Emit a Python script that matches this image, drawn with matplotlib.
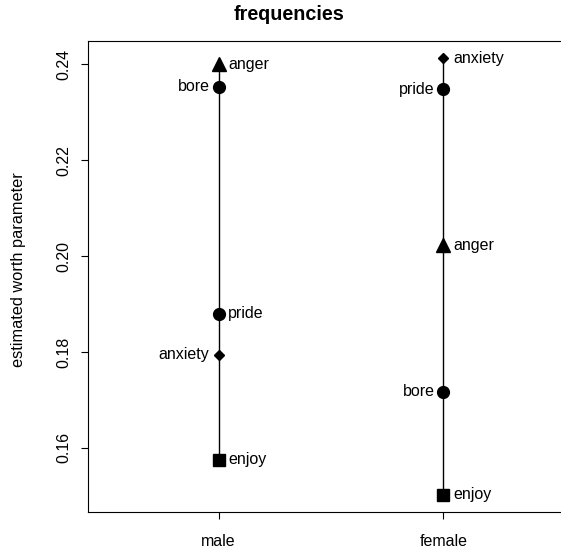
import matplotlib
matplotlib.use("Agg")
import matplotlib.pyplot as plt

groups = ["male", "female"]
items = ["anger", "bore", "pride", "anxiety", "enjoy"]
male = [0.2400, 0.2354, 0.1880, 0.1794, 0.1575]
female = [0.2023, 0.1717, 0.2348, 0.2413, 0.1502]
markers = {"anger": "^", "bore": "o", "pride": "o", "anxiety": "D", "enjoy": "s"}
msizes = {"anger": 10.5, "bore": 8.5, "pride": 8.5, "anxiety": 5, "enjoy": 8.5}
yticks = [0.16, 0.18, 0.20, 0.22, 0.24]

plt.rcParams['font.family'] = ['Liberation Sans', 'DejaVu Sans']
fig = plt.figure(figsize=(5.61, 5.55), dpi=100)
W, H = 561, 555
L, R, T, B = 88, 574, 41, 512
ax = fig.add_axes([L/W, (H-B)/H, (R-L)/W, (B-T)/H])

data = [male, female]
for gi, vals in enumerate(data):
    x = gi + 1
    ax.plot([x, x], [min(vals), max(vals)], color="black", lw=1, zorder=1)
    order = sorted(range(len(items)), key=lambda i: -vals[i])
    for rank, i in enumerate(order):
        name = items[i]
        ax.plot(x, vals[i], marker=markers[name], color="black", ms=msizes[name],
                linestyle="none", zorder=2)
        if rank % 2 == 0:
            ax.annotate(name, (x, vals[i]), xytext=(7, 0), textcoords="offset points",
                        ha="left", va="center", fontsize=11.5)
        else:
            ax.annotate(name, (x, vals[i]), xytext=(-6.5, 0), textcoords="offset points",
                        ha="right", va="center", fontsize=11.5)

ax.set_xlim(0.42, 2.58)
ax.set_ylim(0.1466, 0.2449)
ax.set_xticks([1, 2])
ax.set_xticklabels(groups, fontsize=11.5)
ax.set_yticks(yticks)
ax.set_yticklabels([f"{t:.2f}" for t in yticks], rotation=90, va="center", fontsize=11.5)
ax.tick_params(direction="out", length=5, width=0.8, pad=7)
ax.tick_params(axis="x", pad=11)
ax.spines["right"].set_visible(False)
for s in ax.spines.values():
    s.set_linewidth(0.8)
ax.set_ylabel("estimated worth parameter", fontsize=11.8)
ax.yaxis.set_label_coords((26 - L)/(R - L), (B - 270)/(B - T))
fig.text(289/W, 1 - 14/H, "frequencies", ha="center", va="center",
         fontsize=14.2, fontweight="bold")
fig.savefig("out.png", dpi=100)
